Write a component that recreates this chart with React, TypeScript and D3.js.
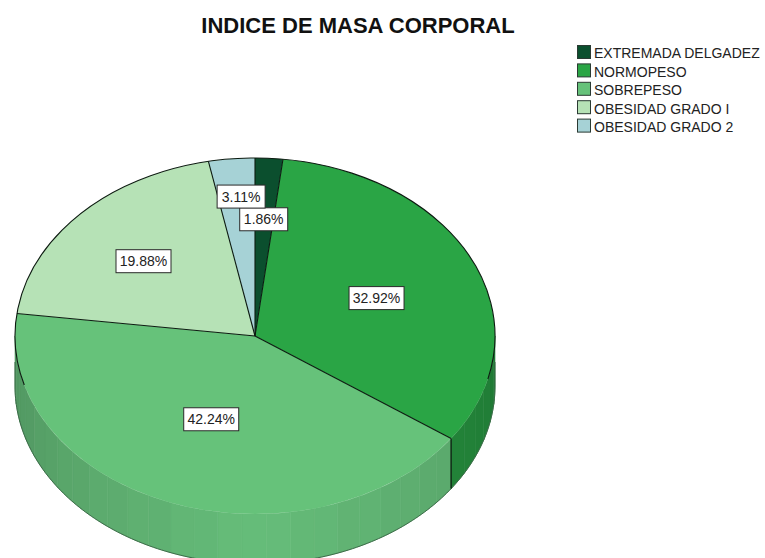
import React from "react";
import * as d3 from "d3";

const categories = ["EXTREMADA DELGADEZ", "NORMOPESO", "SOBREPESO", "OBESIDAD GRADO I", "OBESIDAD GRADO 2"];
const percents = [1.86, 32.92, 42.24, 19.88, 3.11];
const colors = ["#0b4f2e", "#2aa545", "#66c27a", "#b6e2b6", "#a6d2d6"];
const sideColors = ["#083d23", "#23863a", "#5cab6e", "#9cc79c", "#8fb7ba"];
const title = "INDICE DE MASA CORPORAL";

const W = 765, H = 558;
const cx = 255, cy = 336, rx = 240, ry = 178, depth = 50;
const labelOffsets: [number, number][] = [[1, -19], [1, 2], [4, -8], [-15, -8], [-1, -42]];
const labelWidths = [48, 55, 55, 55, 48];

const pt = (a: number, dy = 0): [number, number] => [cx + rx * Math.sin(a), cy - ry * Math.cos(a) + dy];
const rad = (deg: number) => (deg * Math.PI) / 180;

export default function App() {
  const pie = d3.pie<number>().sort(null).startAngle(0).endAngle(2 * Math.PI);
  const arcs = pie(percents);
  const arc = d3.arc<any>().innerRadius(0).outerRadius(rx);
  const rimArc = d3.arc<any>().innerRadius(rx).outerRadius(rx);
  const labelArc = d3.arc<any>().innerRadius(rx * 0.55).outerRadius(rx * 0.55);
  const sy = ry / rx;

  const facets: React.ReactNode[] = [];
  const line = d3.line();
  const step = Math.PI / 30;
  const shade = d3.scaleLinear<number>().domain([Math.PI / 2, Math.PI, (3 * Math.PI) / 2]).range([0.9, 1.1, 0.86]);
  arcs.forEach((s, i) => {
    const a0 = Math.max(s.startAngle, Math.PI / 2);
    const a1 = Math.min(s.endAngle, (3 * Math.PI) / 2);
    if (a1 <= a0) return;
    const n = Math.ceil((a1 - a0) / step);
    for (let k = 0; k < n; k++) {
      const b0 = a0 + ((a1 - a0) * k) / n;
      const b1 = a0 + ((a1 - a0) * (k + 1)) / n;
      const c = d3.rgb(sideColors[i]);
      const f = shade((b0 + b1) / 2) * (k % 2 ? 1 : 1.008);
      const hex = d3.rgb(c.r * f, c.g * f, c.b * f).formatHex();
      const pts: [number, number][] = [];
      for (let j = 0; j <= 4; j++) pts.push(pt(b0 + ((b1 - b0) * j) / 4));
      for (let j = 4; j >= 0; j--) pts.push(pt(b0 + ((b1 - b0) * j) / 4, depth));
      facets.push(<path key={`${i}-${k}`} d={line(pts) + "Z"} fill={hex} stroke={hex} strokeWidth={0.6} />);
    }
  });

  const outerBottom: [number, number][] = d3.range(0, 181).map((j) => pt(Math.PI / 2 + (Math.PI * j) / 180, depth));
  const cut = pt(arcs[1].endAngle);
  const edge = "#0c1a10";

  const font = "'Liberation Sans', Arial, sans-serif";
  return (
    <svg width={W} height={H} style={{ position: "absolute", left: 0, top: 0, background: "#fff" }} fontFamily={font}>
      <text x={358} y={33} textAnchor="middle" fontSize={22} fontWeight="bold" fill="#111">{title}</text>
      {categories.map((c, i) => (
        <g key={c}>
          <rect x={577.5} y={45.5 + i * 18.4} width={13} height={13} fill={colors[i]} stroke="#2b3a33" strokeWidth={1} />
          <text x={594} y={58 + i * 18.6} fontSize={14} fill="#222">{c}</text>
        </g>
      ))}
      {facets}
      <path d={line(outerBottom) as string} fill="none" stroke="#3c6b48" strokeWidth={1} />
      <line x1={15} y1={cy + 26} x2={15} y2={cy + depth} stroke="#3c6b48" strokeWidth={1} />
      <line x1={495} y1={cy + 26} x2={495} y2={cy + depth} stroke="#3c6b48" strokeWidth={1} />
      <line x1={cut[0]} y1={cut[1]} x2={cut[0]} y2={cut[1] + depth} stroke="#0d2a14" strokeWidth={1.5} />
      <g transform={`translate(${cx},${cy}) scale(1,${sy})`}>
        {arcs.map((s, i) => (
          <path key={i} d={arc(s) as string} fill={colors[i]} />
        ))}
        {arcs.map((s, i) => {
          const [sx, sy0] = [rx * Math.sin(s.startAngle), -rx * Math.cos(s.startAngle)];
          return <line key={i} x1={0} y1={0} x2={sx} y2={sy0} stroke={edge} strokeWidth={1.1} vectorEffect="non-scaling-stroke" />;
        })}
        <path d={rimArc({ startAngle: rad(-106), endAngle: rad(104) }) as string} fill="none" stroke={edge} strokeWidth={1.1} vectorEffect="non-scaling-stroke" />
      </g>
      {arcs.map((s, i) => {
        const [mx, my] = labelArc.centroid(s);
        const x = cx + mx + labelOffsets[i][0];
        const y = cy + my * sy + labelOffsets[i][1];
        const w = labelWidths[i];
        return (
          <g key={i}>
            <rect x={x - w / 2} y={y - 11.5} width={w} height={23} fill="#fff" stroke="#2a2a2a" strokeWidth={1} />
            <text x={x} y={y + 5} textAnchor="middle" fontSize={14} fill="#222">{percents[i].toFixed(2)}%</text>
          </g>
        );
      })}
    </svg>
  );
}
